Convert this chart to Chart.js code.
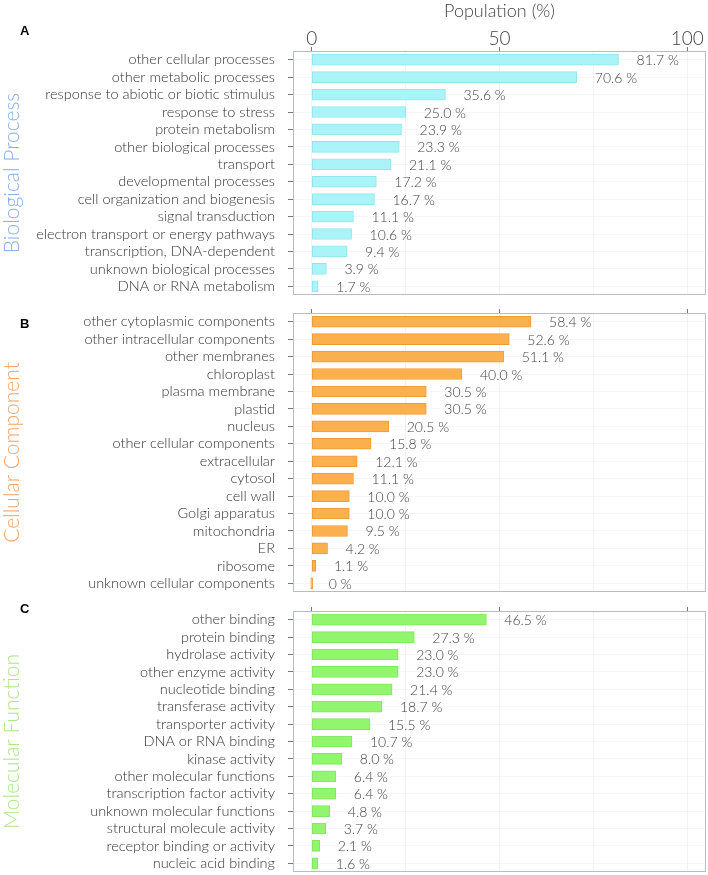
<!DOCTYPE html>
<html>
<head>
<meta charset="utf-8">
<script src="https://cdn.jsdelivr.net/npm/chart.js@4.4.1/dist/chart.umd.min.js"></script>
<style>
body{margin:0;background:#fff;}
#wrap{position:relative;width:708px;height:875px;overflow:hidden;}
.panel{position:absolute;left:0;width:708px;}
.letter{position:absolute;left:20px;font:bold 13px "Liberation Sans",Arial,sans-serif;color:#000;}
</style>
</head>
<body>
<div id="wrap">
<div class="panel" style="top:0"><canvas id="bioChart" width="708" height="300"></canvas></div>
<div class="panel" style="top:300px"><canvas id="cellChart" width="708" height="297"></canvas></div>
<div class="panel" style="top:597px"><canvas id="molChart" width="708" height="278"></canvas></div>
<div class="letter" style="top:23px">A</div>
<div class="letter" style="top:316px">B</div>
<div class="letter" style="top:601px">C</div>
</div>

<script>

/* ДАНІ */

const bioLabels = ["other cellular processes","other metabolic processes","response to abiotic or biotic stimulus","response to stress","protein metabolism","other biological processes","transport","developmental processes","cell organization and biogenesis","signal transduction","electron transport or energy pathways","transcription, DNA-dependent","unknown biological processes","DNA or RNA metabolism"];
const bioValues = [81.7,70.6,35.6,25.0,23.9,23.3,21.1,17.2,16.7,11.1,10.6,9.4,3.9,1.7];

const cellLabels = ["other cytoplasmic components","other intracellular components","other membranes","chloroplast","plasma membrane","plastid","nucleus","other cellular components","extracellular","cytosol","cell wall","Golgi apparatus","mitochondria","ER","ribosome","unknown cellular components"];
const cellValues = [58.4,52.6,51.1,40.0,30.5,30.5,20.5,15.8,12.1,11.1,10.0,10.0,9.5,4.2,1.1,0];

const molLabels = ["other binding","protein binding","hydrolase activity","other enzyme activity","nucleotide binding","transferase activity","transporter activity","DNA or RNA binding","kinase activity","other molecular functions","transcription factor activity","unknown molecular functions","structural molecule activity","receptor binding or activity","nucleic acid binding"];
const molValues = [46.5,27.3,23.0,23.0,21.4,18.7,15.5,10.7,8.0,6.4,6.4,4.8,3.7,2.1,1.6];

const xTicks = [0,25,50,75,100];

const FONT = "Lato, 'Open Sans', sans-serif";
Chart.defaults.font.family = FONT;

/* підписи значень + рамка */

const barText = {
id:"barText",
afterDatasetsDraw(chart){
const ctx = chart.ctx;
const meta = chart.getDatasetMeta(0);
const vals = chart.data.datasets[0].data;
ctx.save();
ctx.font = "300 14px " + FONT;
ctx.fillStyle = "#444";
ctx.textBaseline = "middle";
ctx.textAlign = "left";
meta.data.forEach((bar,i)=>{
const v = vals[i];
const txt = (v === 0 ? "0" : v.toFixed(1)) + " %";
ctx.fillText(txt, bar.x + 18, bar.y + 1);
});
ctx.restore();
},
afterDraw(chart){
const a = chart.chartArea;
const ctx = chart.ctx;
ctx.save();
ctx.strokeStyle = "#b4bcc4";
ctx.lineWidth = 1;
ctx.strokeRect(a.left + 0.5, a.top + 0.5, a.right - a.left - 1, a.bottom - a.top - 1);
ctx.restore();
}
};

function makePanel(id, labels, values, opts){

return new Chart(document.getElementById(id),{
type:"bar",
data:{
labels:labels,
datasets:[{
data:values,
backgroundColor:opts.fill,
borderColor:opts.border,
borderWidth:1,
borderSkipped:false,
barThickness:11,
minBarLength:2
}]
},
options:{
indexAxis:"y",
responsive:false,
animation:false,
layout:{padding:{top:0,bottom:opts.bottom,left:0,right:2}},
plugins:{legend:{display:false},tooltip:{enabled:false}},
scales:{
x:{
position:"top",
min:-5,
max:105,
afterBuildTicks(axis){ axis.ticks = xTicks.map(v=>({value:v})); },
afterFit(axis){ axis.height = opts.topH; axis.paddingLeft = 0; axis.paddingRight = 0; },
ticks:{
color:"#444",
padding:-3,
maxRotation:0,
font:{size:19,weight:"300"},
callback(v){ return (opts.showTicks && v % 50 === 0) ? v : ""; }
},
grid:{
color:"rgba(0,0,0,0.05)",
tickLength:4,
tickColor(c){ return (c.tick && c.tick.value % 50 === 0) ? "#777" : "rgba(0,0,0,0)"; }
},
border:{display:false},
title:{
display:opts.showTicks,
text:"Population (%)",
color:"#444",
font:{size:18,weight:"300"},
padding:{top:0,bottom:0}
}
},
y:{
afterFit(axis){ axis.width = 293; axis.paddingTop = 0; axis.paddingBottom = 0; },
ticks:{
color:"#333",
padding:13,
autoSkip:false,
font:{size:14.5,weight:"300"}
},
grid:{
offset:false,
color:"rgba(0,0,0,0.035)",
tickLength:5,
tickColor:"#777"
},
border:{display:false},
title:{
display:true,
text:opts.title,
color:opts.titleColor,
font:{size:21,weight:"300"},
padding:0
}
}
}
},
plugins:[barText]
});

}

window.bioChart = makePanel("bioChart", bioLabels, bioValues, {
fill:"#aaf3f7", border:"#90e6ee", topH:51, bottom:5, showTicks:true,
title:"Biological Process", titleColor:"#86aee8"
});

window.cellChart = makePanel("cellChart", cellLabels, cellValues, {
fill:"#fbb04e", border:"#f09a34", topH:13, bottom:5, showTicks:false,
title:"Cellular Component", titleColor:"#f2a468"
});

window.molChart = makePanel("molChart", molLabels, molValues, {
fill:"#92f56e", border:"#80e860", topH:14, bottom:3, showTicks:false,
title:"Molecular Function", titleColor:"#ace884"
});

</script>
</body>
</html>
